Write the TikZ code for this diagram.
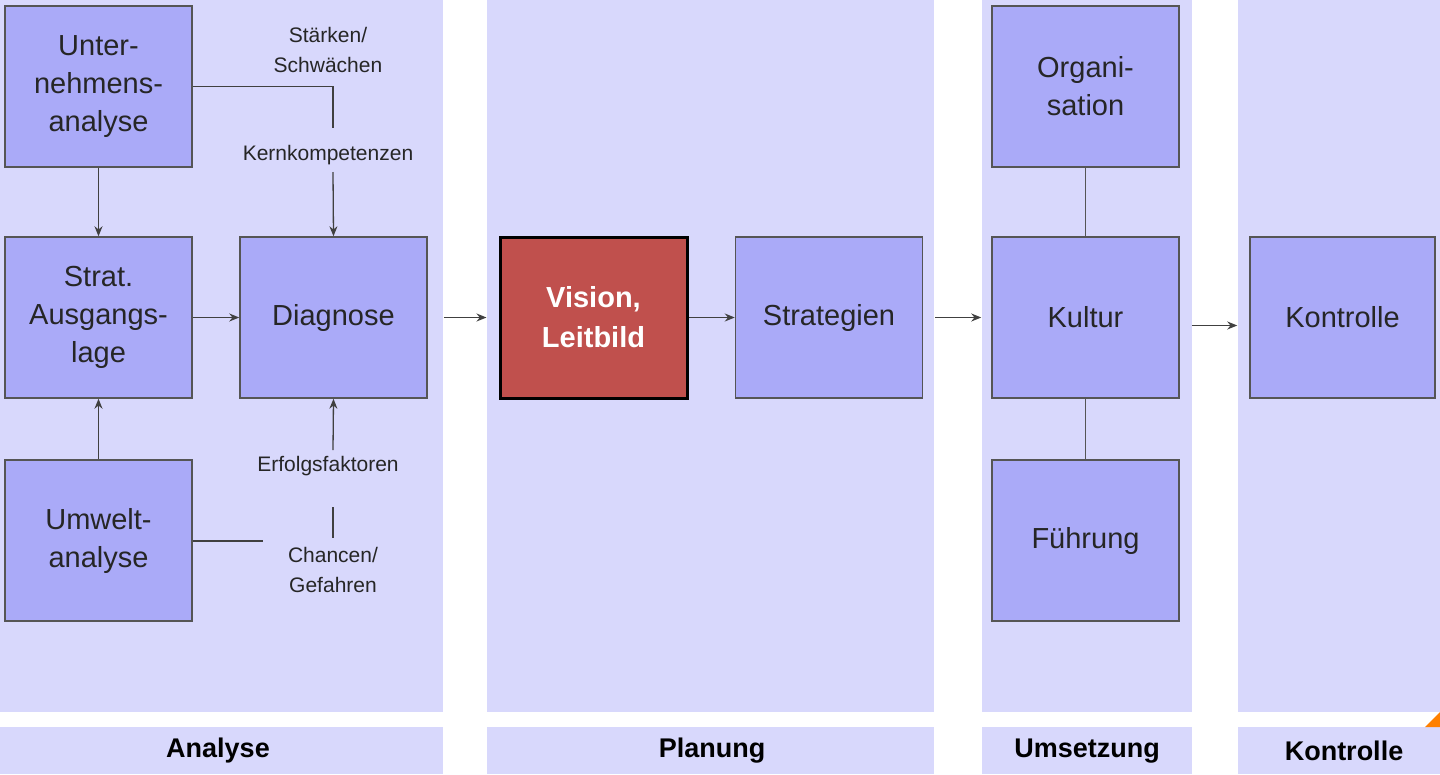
\documentclass[tikz,border=0pt]{standalone}
\usepackage{fontspec}
\setmainfont{Liberation Sans}
\usetikzlibrary{arrows.meta}
\definecolor{panel}{HTML}{D8D8FC}
\definecolor{boxc}{HTML}{AAAAF8}
\definecolor{redc}{HTML}{C0504D}
\definecolor{linec}{HTML}{555555}
\begin{document}
\begin{tikzpicture}[x=1pt,y=-1pt,
  bx/.style={draw=linec,line width=1.5pt,fill=boxc,minimum width=187pt,minimum height=161pt,align=center,font=\fontsize{29}{38}\selectfont,text=black!85},
  lab/.style={font=\fontsize{21}{30}\selectfont,align=center,text=black!85},
  con/.style={draw=black!75,line width=1.3pt},
  arr/.style={con,-{Stealth[length=10pt,width=8pt]}},
  pan/.style={fill=panel,draw=none},
  plab/.style={font=\bfseries\fontsize{27}{30}\selectfont}]
\useasboundingbox (0,0) rectangle (1440,774);
\fill[white] (0,0) rectangle (1440,774);
\fill[pan] (0,0) rectangle (443,712);
\fill[pan] (487,0) rectangle (934,712);
\fill[pan] (982,0) rectangle (1192,712);
\fill[pan] (1238,0) rectangle (1440,712);
\fill[pan] (0,727) rectangle (443,774);
\fill[pan] (487,727) rectangle (934,774);
\fill[pan] (982,727) rectangle (1192,774);
\fill[pan] (1238,727) rectangle (1440,774);
\fill[orange] (1440,712) -- (1440,727) -- (1425,727) -- cycle;
\node[plab] (pa) at (218,751) {Analyse};
\node[plab] (pp) at (712,751) {Planung};
\node[plab] (pu) at (1087,751) {Umsetzung};
\node[plab] (pk) at (1344,751) {Kontrolle};

\node[bx] (ua) at (98.5,86.5) {Unter-\\nehmens-\\analyse};
\node[bx] (sa) at (98.5,317.5) {Strat.\\Ausgangs-\\lage};
\node[bx] (uw) at (98.5,540.5) {Umwelt-\\analyse};
\node[bx] (di) at (333.5,317.5) {Diagnose};
\node[bx,fill=redc,draw=black,line width=3pt,text=white,font=\bfseries\fontsize{29}{40}\selectfont] (vi) at (593.5,317.5) {Vision,\\Leitbild};
\node[bx] (st) at (829,317.5) {Strategien};
\node[bx] (or) at (1085.5,86.5) {Organi-\\sation};
\node[bx] (ku) at (1085.5,317.5) {Kultur};
\node[bx] (fu) at (1085.5,540.5) {Führung};
\node[bx,minimum width=185pt] (ko) at (1342.5,317.5) {Kontrolle};

\node[lab] (ss) at (328,50) {Stärken/\\Schwächen};
\node[lab] (kk) at (328,155) {Kernkompetenzen};
\node[lab] (ef) at (328,466) {Erfolgsfaktoren};
\node[lab] (cg) at (333,570) {Chancen/\\Gefahren};
\coordinate (c1) at (333,128);
\coordinate (c2) at (333,172);
\coordinate (c3) at (263,541);
\coordinate (c4) at (333,507);
\coordinate (c5) at (333,538);
\coordinate (c6) at (333,450);

\draw[con] (ua.east) -- (c1 |- ua.east) -- (c1);
\draw[arr] (c2) -- (di.north);
\draw[con] (uw.east |- c3) -- (c3);
\draw[con] (c4) -- (c5);
\draw[arr] (c6) -- (di.south);
\draw[arr] (ua) -- (sa);
\draw[arr] (uw) -- (sa);
\draw[arr] (sa) -- (di);
\draw[arr] ([xshift=16pt]di.east) -- ([xshift=-12pt]vi.west);
\draw[arr] (vi) -- (st);
\draw[arr] ([xshift=12pt]st.east) -- ([xshift=-10pt]ku.west);
\draw[arr] ([xshift=12pt,yshift=-8pt]ku.east) -- ([xshift=-12pt,yshift=-8pt]ko.west);
\draw[con,draw=linec] (or) -- (ku);
\draw[con,draw=linec] (ku) -- (fu);
\end{tikzpicture}
\end{document}
